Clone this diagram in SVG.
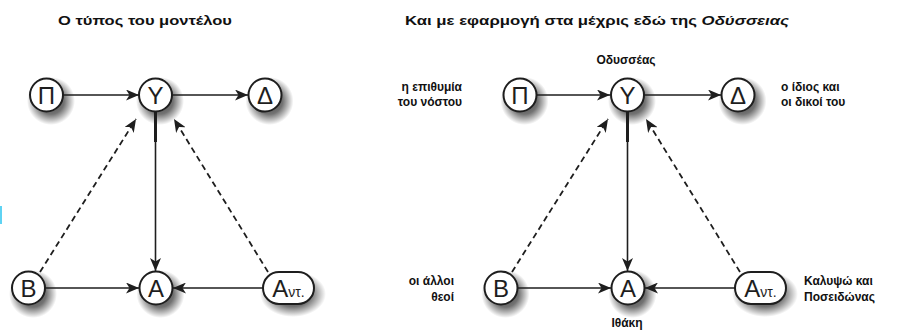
<svg xmlns="http://www.w3.org/2000/svg" width="898" height="331" viewBox="0 0 898 331">
<style>
  .title{font-family:"Liberation Sans",Arial,sans-serif;font-weight:bold;font-size:13.5px;fill:#111}
  .lbl{font-family:"Liberation Sans",Arial,sans-serif;font-weight:bold;font-size:12px;fill:#111}
  .node circle,.node rect{fill:#fff;stroke:#1e1e1e;stroke-width:2}
  .shd{fill:url(#sg);stroke:none}
  .nl{font-family:"Liberation Sans",Arial,sans-serif;font-size:24px;fill:#1e1e1e;text-anchor:middle}
  .sm{font-size:14px}
  .c{stroke:#1e1e1e;stroke-width:1.6;fill:none}
  .d{stroke:#1e1e1e;stroke-width:1.8;fill:none;stroke-dasharray:6 4}
  .thick{stroke:#1e1e1e;stroke-width:3}
</style>
<defs>
  <radialGradient id="sg">
    <stop offset="0" stop-color="#000" stop-opacity="0.75"/>
    <stop offset="0.55" stop-color="#000" stop-opacity="0.55"/>
    <stop offset="1" stop-color="#000" stop-opacity="0"/>
  </radialGradient>
  <marker id="ah" viewBox="0 0 13 11" refX="13" refY="5.5" markerWidth="13" markerHeight="11" markerUnits="userSpaceOnUse" orient="auto">
    <path d="M0,0 L13,5.5 L0,11 L3.5,5.5 z" fill="#1e1e1e"/>
  </marker>
</defs>
<rect x="0" y="206" width="2" height="18" fill="#5fd3f3"/>

<text class="title" x="145" y="25" text-anchor="middle" textLength="174" lengthAdjust="spacingAndGlyphs">Ο τύπος του μοντέλου</text>
<text class="title" x="597" y="25" text-anchor="middle" textLength="384" lengthAdjust="spacingAndGlyphs">Και με εφαρμογή στα μέχρις εδώ της <tspan font-style="italic">Οδύσσειας</tspan></text>

<g id="shadows">
  <circle class="shd" cx="51" cy="101" r="24"/>
  <circle class="shd" cx="160" cy="101" r="24"/>
  <circle class="shd" cx="269.5" cy="101" r="24"/>
  <circle class="shd" cx="33" cy="294" r="24"/>
  <circle class="shd" cx="160.5" cy="294" r="24"/>
  <ellipse class="shd" cx="293" cy="294" rx="33" ry="23"/>
  <circle class="shd" cx="524.5" cy="101" r="24"/>
  <circle class="shd" cx="632" cy="101" r="24"/>
  <circle class="shd" cx="742.5" cy="101" r="24"/>
  <circle class="shd" cx="505.5" cy="294" r="24"/>
  <circle class="shd" cx="632.5" cy="294" r="24"/>
  <ellipse class="shd" cx="765" cy="294" rx="33" ry="23"/>
</g>

<g id="connectors">
  <line class="c" x1="63" y1="95" x2="139" y2="95" marker-end="url(#ah)"/>
  <line class="c" x1="172" y1="95" x2="248" y2="95" marker-end="url(#ah)"/>
  <line class="thick" x1="155.5" y1="111" x2="155.5" y2="142"/>
  <line class="c" x1="155.5" y1="140" x2="155.5" y2="271" marker-end="url(#ah)"/>
  <line class="c" x1="45" y1="288" x2="139" y2="288" marker-end="url(#ah)"/>
  <line class="c" x1="263" y1="288" x2="173" y2="288" marker-end="url(#ah)"/>
  <line class="d" x1="40" y1="272" x2="136" y2="119" marker-end="url(#ah)"/>
  <line class="d" x1="268" y1="272" x2="174" y2="119" marker-end="url(#ah)"/>

  <line class="c" x1="537" y1="95" x2="610" y2="95" marker-end="url(#ah)"/>
  <line class="c" x1="644" y1="95" x2="721" y2="95" marker-end="url(#ah)"/>
  <line class="thick" x1="627.5" y1="111" x2="627.5" y2="142"/>
  <line class="c" x1="627.5" y1="140" x2="627.5" y2="271" marker-end="url(#ah)"/>
  <line class="c" x1="518" y1="288" x2="611" y2="288" marker-end="url(#ah)"/>
  <line class="c" x1="735" y1="288" x2="645" y2="288" marker-end="url(#ah)"/>
  <line class="d" x1="512" y1="272" x2="608" y2="119" marker-end="url(#ah)"/>
  <line class="d" x1="740" y1="272" x2="646" y2="119" marker-end="url(#ah)"/>
</g>

<g id="L-P" class="node"><circle cx="46.5" cy="95" r="16.5"/><text class="nl" x="46.5" y="103.5">Π</text></g>
<g id="L-Y" class="node"><circle cx="155.5" cy="95" r="16.5"/><text class="nl" x="155.5" y="103.5">Υ</text></g>
<g id="L-D" class="node"><circle cx="265" cy="95" r="16.5"/><text class="nl" x="265" y="103.5">Δ</text></g>
<g id="L-B" class="node"><circle cx="28.5" cy="288" r="16.5"/><text class="nl" x="28.5" y="296.5">Β</text></g>
<g id="L-A" class="node"><circle cx="156" cy="288" r="16.5"/><text class="nl" x="156" y="296.5">Α</text></g>
<g id="L-Ant" class="node"><rect x="263" y="272" width="51" height="32" rx="16"/><text class="nl" x="288.5" y="296.5">Α<tspan class="sm">ντ.</tspan></text></g>

<g id="R-P" class="node"><circle cx="520" cy="95" r="16.5"/><text class="nl" x="520" y="103.5">Π</text></g>
<g id="R-Y" class="node"><circle cx="627.5" cy="95" r="16.5"/><text class="nl" x="627.5" y="103.5">Υ</text></g>
<g id="R-D" class="node"><circle cx="738" cy="95" r="16.5"/><text class="nl" x="738" y="103.5">Δ</text></g>
<g id="R-B" class="node"><circle cx="501" cy="288" r="16.5"/><text class="nl" x="501" y="296.5">Β</text></g>
<g id="R-A" class="node"><circle cx="628" cy="288" r="16.5"/><text class="nl" x="628" y="296.5">Α</text></g>
<g id="R-Ant" class="node"><rect x="735" y="272" width="51" height="32" rx="16"/><text class="nl" x="760.5" y="296.5">Α<tspan class="sm">ντ.</tspan></text></g>

<g id="labels">
  <text class="lbl" x="626" y="64" text-anchor="middle">Οδυσσέας</text>
  <text class="lbl" x="462" y="91" text-anchor="end">η επιθυμία</text>
  <text class="lbl" x="462" y="106" text-anchor="end">του νόστου</text>
  <text class="lbl" x="781" y="91">ο ίδιος και</text>
  <text class="lbl" x="781" y="106">οι δικοί του</text>
  <text class="lbl" x="454" y="285" text-anchor="end">οι άλλοι</text>
  <text class="lbl" x="454" y="301" text-anchor="end">θεοί</text>
  <text class="lbl" x="804" y="285">Καλυψώ και</text>
  <text class="lbl" x="804" y="301">Ποσειδώνας</text>
  <text class="lbl" x="627" y="327" text-anchor="middle">Ιθάκη</text>
</g>
</svg>
